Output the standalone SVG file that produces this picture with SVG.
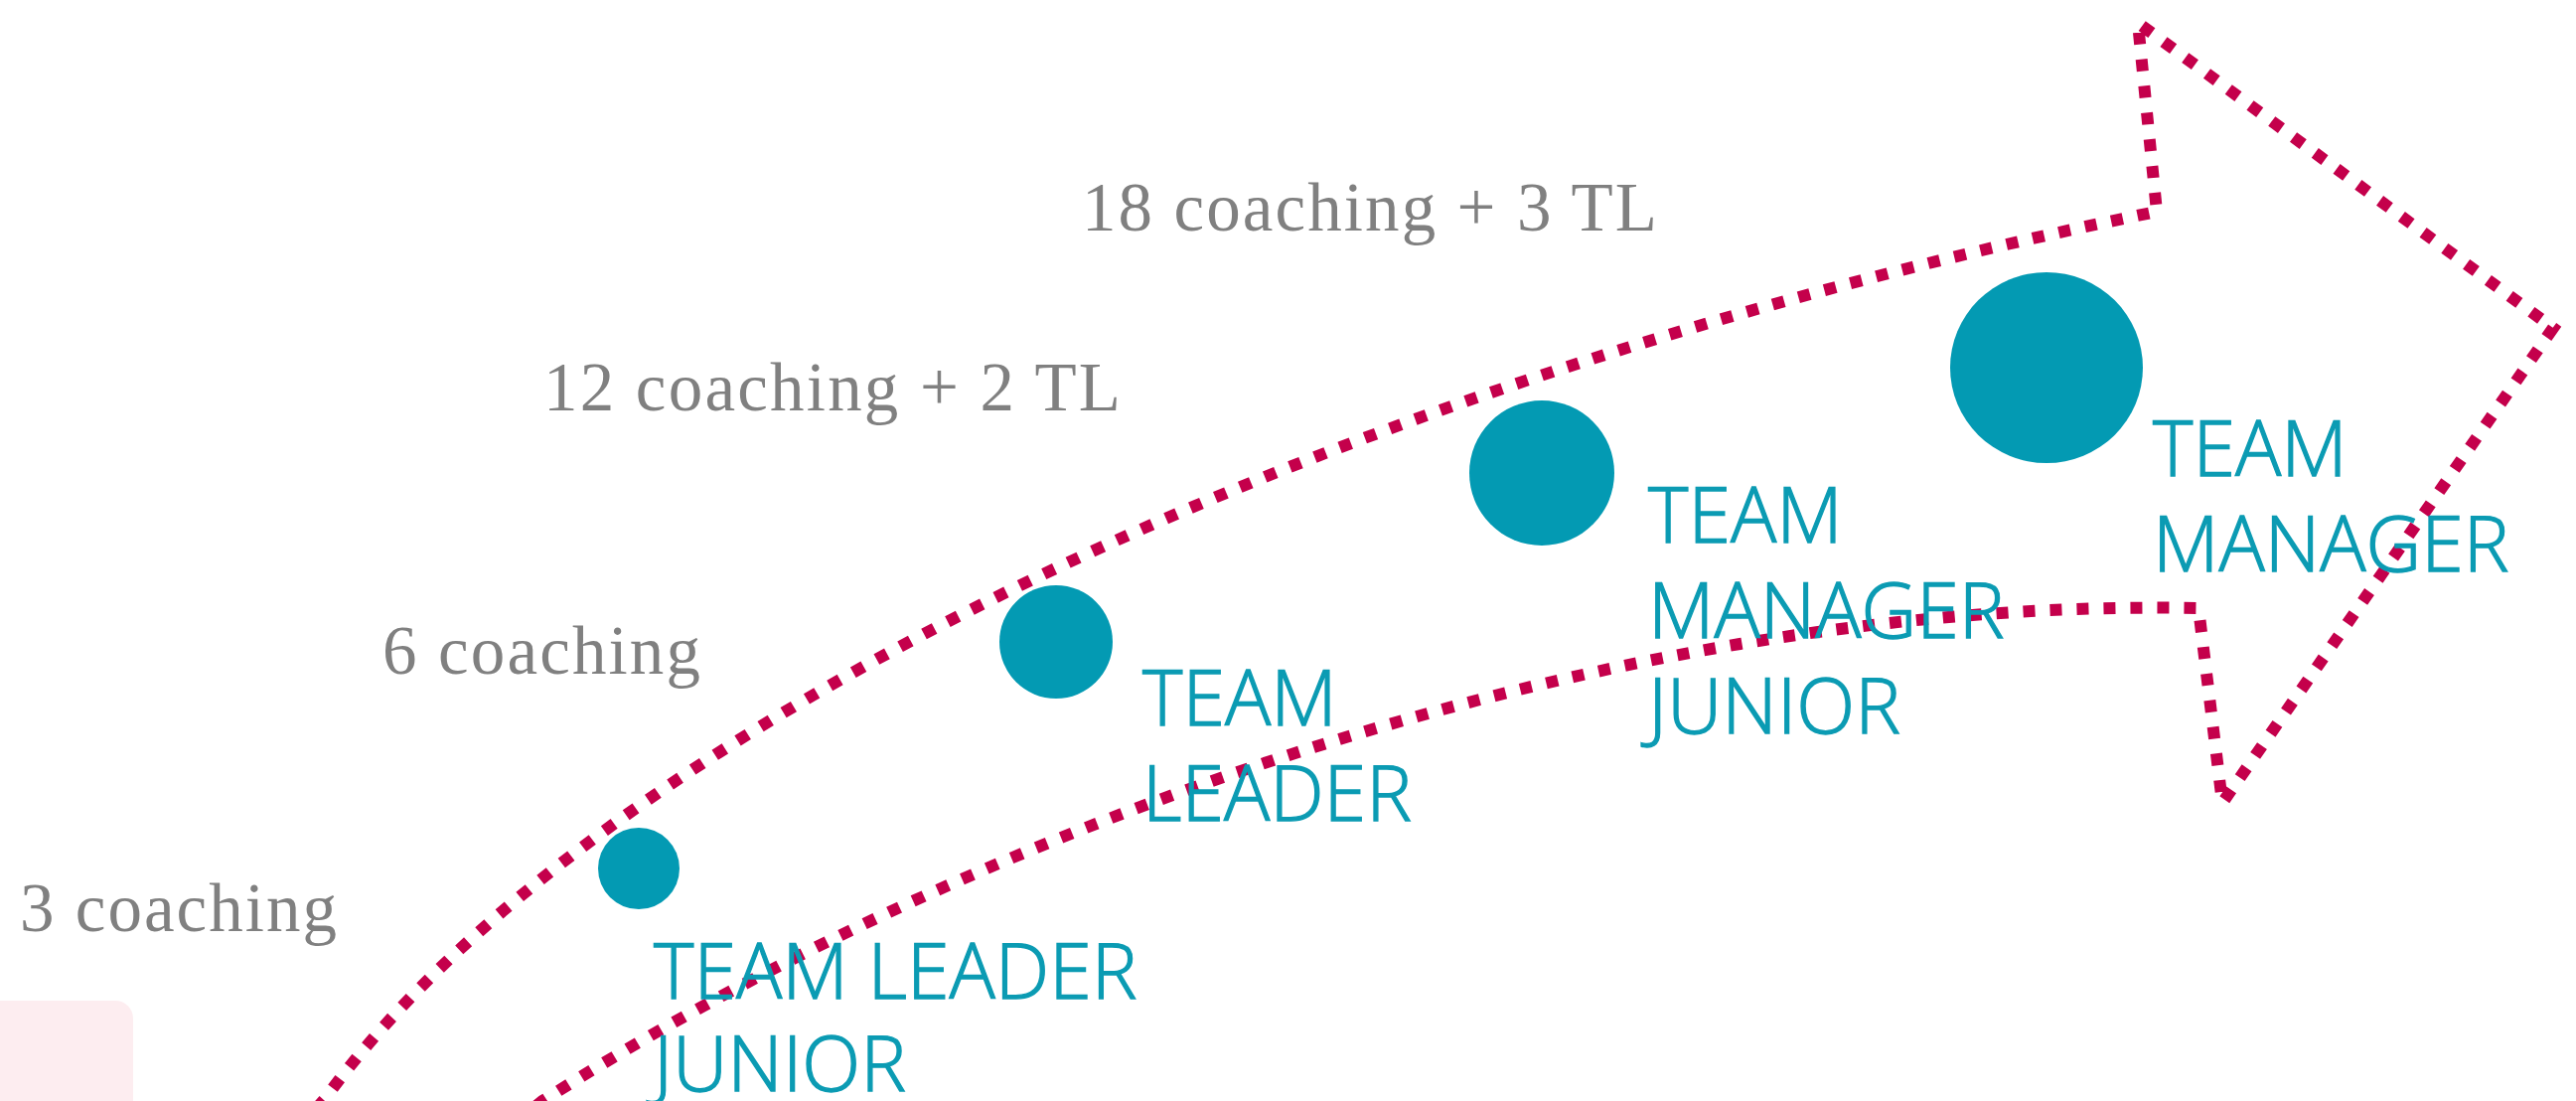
<svg xmlns="http://www.w3.org/2000/svg" width="2593" height="1108" viewBox="0 0 2593 1108">
<style>
.dot{fill:#039ab3}
.lbl{font-family:"Open Sans","Noto Sans","Liberation Sans",sans-serif;font-size:77px;font-weight:300;fill:#0b9bb3;stroke:#0b9bb3;stroke-width:1.3}
.cnt{font-family:"Liberation Serif","DejaVu Serif",serif;font-size:69px;fill:#808080}
.arrow{fill:none;stroke:#c4004b;stroke-width:12;stroke-dasharray:12 15;stroke-linejoin:miter}
</style>
<rect width="2593" height="1108" fill="#ffffff"/>
<rect x="-20" y="1007" width="154" height="130" rx="18" fill="#fdedf0"/>
<g id="counts">
<text class="cnt" x="1089" y="232" textLength="579">18 coaching + 3 TL</text>
<text class="cnt" x="547" y="413" textLength="581">12 coaching + 2 TL</text>
<text class="cnt" x="385" y="678" textLength="320">6 coaching</text>
<text class="cnt" x="20" y="937" textLength="319">3 coaching</text>
</g>
<g id="connectors">
<path class="arrow" d="M318,1116 L327,1106 C600,730 1350,380 2171,213 L2152,23 L2570,330 L2237,808 L2213,612 C1600,600 950,850 546,1108 L536,1116"/>
</g>
<g id="node-team-leader-junior">
<circle class="dot" cx="643" cy="874" r="41"/>
<text class="lbl" x="658" y="1005">TEAM LEADER</text>
<text class="lbl" x="658" y="1098">JUNIOR</text>
</g>
<g id="node-team-leader">
<circle class="dot" cx="1063" cy="646" r="57"/>
<text class="lbl" x="1150" y="730">TEAM</text>
<text class="lbl" x="1150" y="826">LEADER</text>
</g>
<g id="node-team-manager-junior">
<circle class="dot" cx="1552" cy="476" r="73"/>
<text class="lbl" x="1659" y="546">TEAM</text>
<text class="lbl" x="1659" y="642">MANAGER</text>
<text class="lbl" x="1659" y="738">JUNIOR</text>
</g>
<g id="node-team-manager">
<ellipse class="dot" cx="2060" cy="370" rx="97" ry="96"/>
<text class="lbl" x="2167" y="479">TEAM</text>
<text class="lbl" x="2167" y="575">MANAGER</text>
</g>
</svg>
